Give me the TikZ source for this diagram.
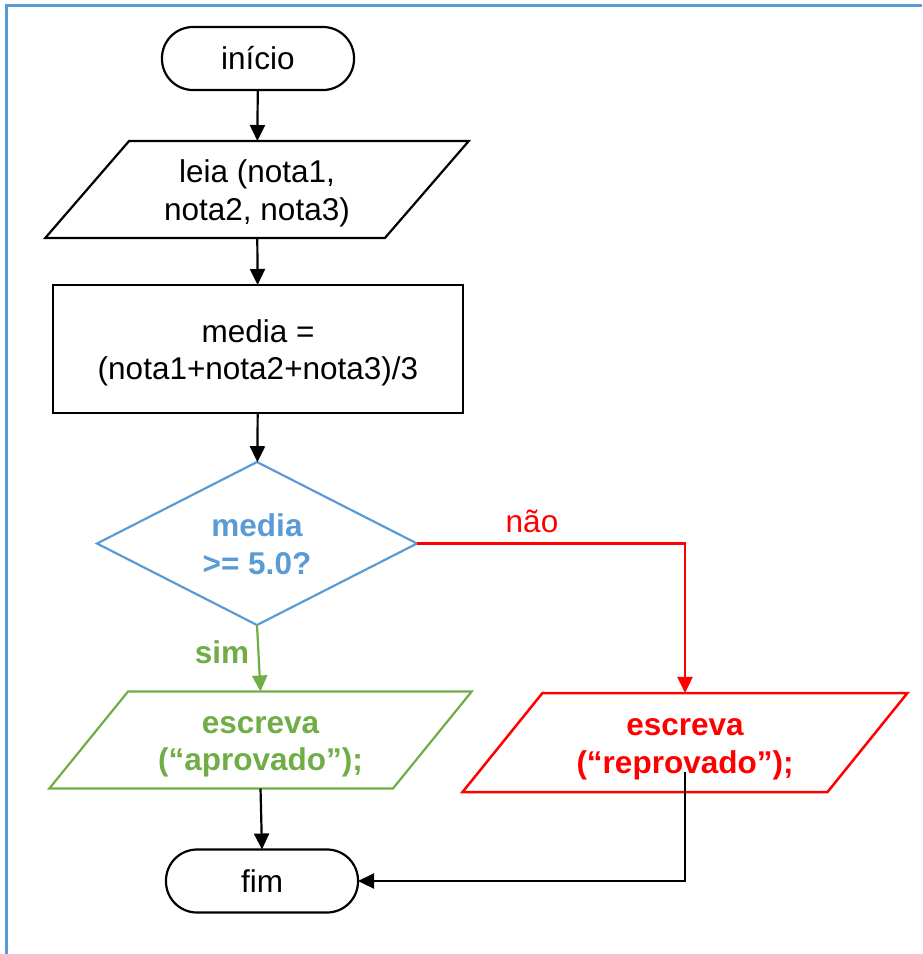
\documentclass[tikz,border=0pt]{standalone}
\usepackage{fontspec}
\setmainfont{Liberation Sans}
\usetikzlibrary{shapes.geometric,arrows.meta,calc}
\definecolor{frameblue}{HTML}{5B9BD5}
\definecolor{yesgreen}{HTML}{70AD47}
\definecolor{nored}{HTML}{FF0000}
\begin{document}
\begin{tikzpicture}[x=1pt,y=-1pt,
  every node/.style={font=\fontsize{31.5}{37.5}\selectfont, align=center, inner sep=0pt, outer sep=0pt},
  twoline/.style={text height=65.5pt, text depth=4pt},
  boldtext/.style={font=\fontsize{31.5}{37.5}\selectfont\bfseries},
  flow/.style={line width=2.2pt, -{Triangle[length=16pt,width=15pt]}},
  terminal/.style={draw, line width=2.2pt, rectangle, rounded corners=31pt,
    minimum width=192pt, minimum height=63pt},
  io/.style={draw, line width=2.2pt, trapezium, trapezium left angle=48.8,
    trapezium right angle=131.2, trapezium stretches=true,
    minimum width=424pt, minimum height=97pt, twoline},
  process/.style={draw, line width=2.2pt, rectangle, minimum width=410pt,
    minimum height=128pt, twoline},
  decision/.style={draw=frameblue, line width=2.2pt, diamond, aspect=2,
    minimum width=320pt, minimum height=163pt, text=frameblue, boldtext, twoline}
]
% page extent
\path[use as bounding box] (0,0) rectangle (922,954);

% frame edges
\draw[frameblue, line width=3pt] (6.5,954) -- (6.5,5) -- (922,5);

% flowchart nodes
\node[terminal] (start) at (258,58.5) {início};
\node[io] (read) at (257,189.5) {leia (nota1,\\nota2, nota3)};
\node[process] (calc) at (258,349) {media =\\(nota1+nota2+nota3)/3};
\node[decision] (dec) at (257,543.5) {media\\>= 5.0?};
\node[io, draw=yesgreen, text=yesgreen, boldtext]
  (pass) at (260.5,740) {escreva\\(“aprovado”);};
\node[io, draw=nored, text=nored, line width=2.5pt, minimum width=446pt, minimum height=99pt, boldtext]
  (fail) at (685,742.5) {escreva\\(“reprovado”);};
\node[terminal] (end) at (262,881) {fim};

% branch labels
\node[text=yesgreen, boldtext] (simlbl) at (222,652) {sim};
\node[text=nored] (naolbl) at (532,521) {não};

% connectors
\draw[flow] (start) -- (read);
\draw[flow] (read) -- (calc);
\draw[flow] (calc) -- (dec);
\draw[flow, yesgreen] (dec.south) -- (pass.north);
\draw[flow, nored] (dec.east) -| (fail.north);
\draw[flow] (pass.south) -- (end.north);
\coordinate (failout) at ($(fail.south)+(0,-20)$);
\draw[flow] (failout) |- (end.east);
\end{tikzpicture}
\end{document}
